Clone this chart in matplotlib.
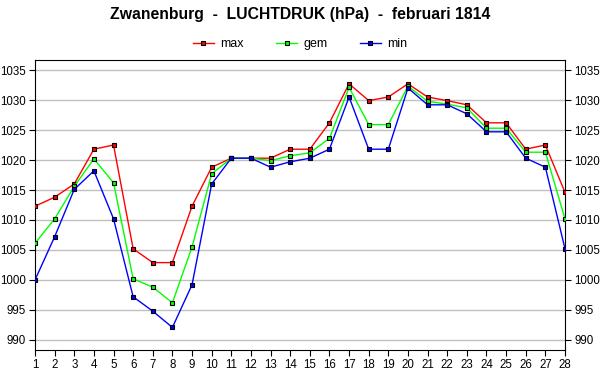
import matplotlib
matplotlib.use("Agg")
import matplotlib.pyplot as plt

plt.rcParams['font.family'] = ['Liberation Sans', 'DejaVu Sans']

days = list(range(1, 29))
vmax = [1012.3, 1013.8, 1016.0, 1021.8, 1022.5, 1005.2, 1002.9, 1002.9, 1012.3, 1018.8,
        1020.3, 1020.3, 1020.3, 1021.8, 1021.8, 1026.2, 1032.7, 1029.9, 1030.5, 1032.7,
        1030.5, 1029.9, 1029.2, 1026.2, 1026.2, 1021.8, 1022.5, 1014.6]
vgem = [1006.1, 1010.2, 1015.6, 1020.2, 1016.2, 1000.2, 998.8, 996.2, 1005.5, 1017.7,
        1020.3, 1020.3, 1019.9, 1020.7, 1021.2, 1023.6, 1032.1, 1025.9, 1025.9, 1032.3,
        1029.8, 1029.3, 1028.7, 1025.3, 1025.3, 1021.3, 1021.3, 1010.2]
vmin = [1000.0, 1007.2, 1015.1, 1018.2, 1010.2, 997.2, 994.8, 992.1, 999.2, 1016.0,
        1020.3, 1020.3, 1018.8, 1019.7, 1020.3, 1021.8, 1030.5, 1021.8, 1021.8, 1032.0,
        1029.2, 1029.2, 1027.7, 1024.7, 1024.7, 1020.3, 1018.8, 1005.2]
yticks = [990, 995, 1000, 1005, 1010, 1015, 1020, 1025, 1030, 1035]

fig = plt.figure(figsize=(6, 3.9), dpi=100)
ax = fig.add_axes([35/600, 40/390, 530/600, 290/390])

series = [("max", vmax, "#ff0000"), ("gem", vgem, "#00ff00"), ("min", vmin, "#0000ff")]
for name, vals, col in series:
    ax.plot(days, vals, color=col, lw=1.0, marker='s', ms=3.5, mfc=col, mec='black',
            mew=0.8, label=name, zorder=3)

ax.set_xlim(1, 28)
ax.set_ylim(988.33, 1036.67)
ax.set_xticks(days)
ax.set_yticks(yticks)
ax.grid(axis='y', color='#c0c0c0', lw=1.0, zorder=0)
ax.tick_params(axis='both', labelsize=8.3, length=4, width=0.8, direction='out', pad=2.5)
ax.tick_params(axis='y', right=True, labelright=True)
for s in ax.spines.values():
    s.set_linewidth(0.8)

fig.text(0.5, 1 - 14/390, "Zwanenburg  -  LUCHTDRUK (hPa)  -  februari 1814",
         ha='center', va='center', fontsize=11.3, fontweight='bold')
fig.legend(loc='center', bbox_to_anchor=(0.5, 1 - 44/390), ncol=3, frameon=False,
           fontsize=9, handlelength=1.67, columnspacing=2.6, handletextpad=0.5)

fig.savefig("out.png", dpi=100)
